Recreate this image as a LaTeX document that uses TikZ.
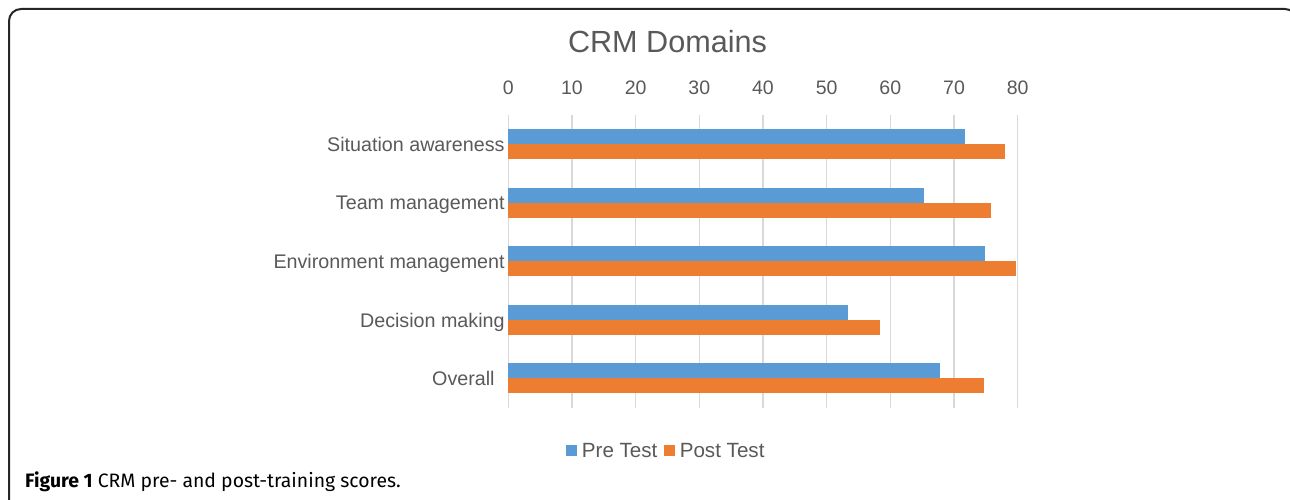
\documentclass[tikz,border=0pt]{standalone}
\usepackage{fontspec}
\setmainfont{Liberation Sans}
\newfontfamily\capfont{Fira Sans}
\usetikzlibrary{positioning}
\definecolor{preblue}{HTML}{5B9BD5}
\definecolor{postorange}{HTML}{ED7D31}
\definecolor{gridgray}{HTML}{D9D9D9}
\definecolor{txtgray}{HTML}{595959}

\begin{document}
\begin{tikzpicture}[x=1pt,y=-1pt,
  gridline/.style={gridgray, line width=1.5pt},
  ticklabel/.style={text=txtgray, font=\fontsize{19.5}{20}\selectfont, inner sep=0pt},
  catlabel/.style={text=txtgray, font=\fontsize{19.7}{20}\selectfont, inner sep=0pt, anchor=base east},
  legtext/.style={text=txtgray, font=\fontsize{20.6}{22}\selectfont, inner sep=0pt},
  key/.style={minimum size=11pt, inner sep=0pt},
  prebar/.style={fill=preblue},
  postbar/.style={fill=postorange}]
  \clip (0,0) rectangle (1290,500);
  % frame
  \draw[line width=2pt, rounded corners=12pt, black!85] (9,9) rectangle (1297,530);

  \node[text=txtgray, font=\fontsize{30.6}{32}\selectfont, inner sep=0pt] (title) at (667.5,41.5) {CRM Domains};

  \begin{scope}[shift={(508.3,0)}, x=6.367pt]
    \foreach \v in {0,10,...,80} {
      \draw[gridline] (\v,115) -- (\v,408);
      \node[ticklabel] (t\v) at (\v,88) {\v};
    }
    \foreach \name/\pre/\post [count=\i from 0] in {Situation awareness/71.8/78.0,
        Team management/65.3/75.8, Environment management/74.8/79.7,
        Decision making/53.3/58.3, Overall\kern10pt/67.8/74.7} {
      \pgfmathsetmacro\yc{144+58.6*\i}
      \node[catlabel] (c\i) at (-0.55,\yc+7.2) {\name};
      \fill[prebar] (0,\yc-15) rectangle (\pre,\yc);
      \fill[postbar] (0,\yc) rectangle (\post,\yc+15);
    }
  \end{scope}

  % legend
  \node[key, fill=preblue] (kpre) at (571.5,450.5) {};
  \node[legtext, right=4.5pt of kpre] (lpre) {Pre Test};
  \node[key, fill=postorange, right=6pt of lpre] (kpost) {};
  \node[legtext, right=4.5pt of kpost] (lpost) {Post Test};

  \node[anchor=west, inner sep=0pt, font=\capfont\fontsize{19.4}{21}\selectfont] (cap) at (25,482)
    {\textbf{Figure 1} CRM pre- and post-training scores.};
\end{tikzpicture}
\end{document}
